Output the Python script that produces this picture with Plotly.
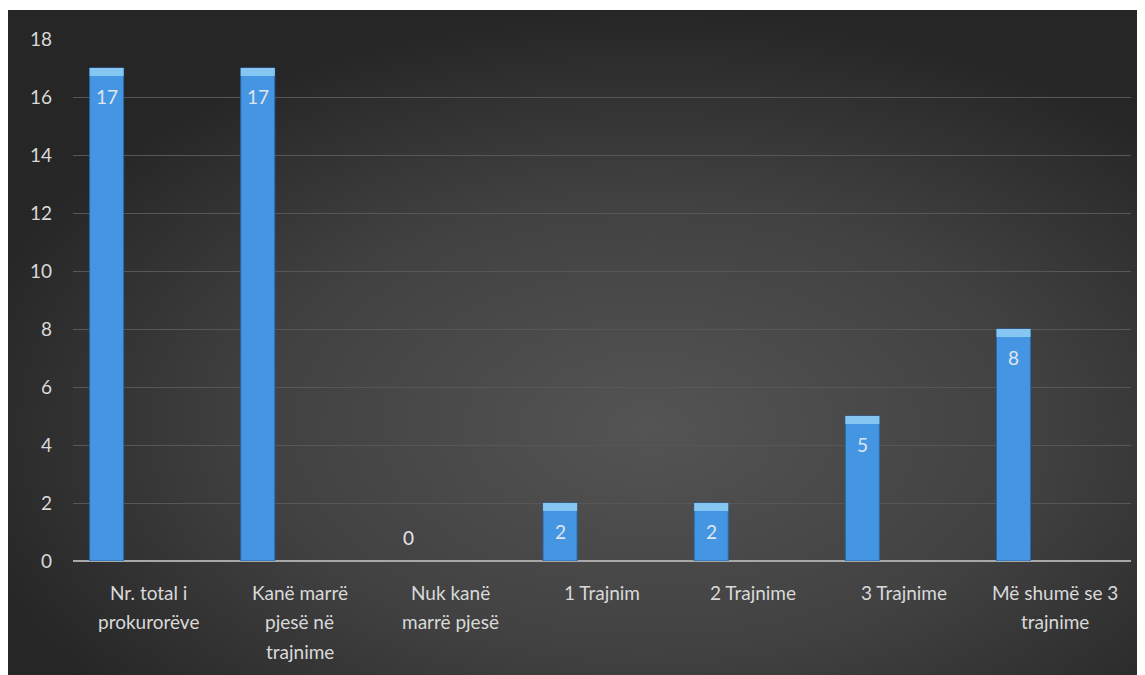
import base64
import plotly.graph_objects as go

categories = [
    "Nr. total i<br>prokurorëve",
    "Kanë marrë<br>pjesë në<br>trajnime",
    "Nuk kanë<br>marrë pjesë",
    "1 Trajnim",
    "2 Trajnime",
    "3 Trajnime",
    "Më shumë se 3<br>trajnime",
]
values = [17, 17, 0, 2, 2, 5, 8]
y_ticks = [0, 2, 4, 6, 8, 10, 12, 14, 16, 18]

FONT = "Lato, Carlito, Calibri, 'Open Sans', sans-serif"
TXT = "#d9d9d9"

svg = """<svg xmlns='http://www.w3.org/2000/svg' width='1145' height='673' viewBox='0 0 1145 673' preserveAspectRatio='none'>
<defs><radialGradient id='g' cx='0.56' cy='0.62' r='0.62' fx='0.56' fy='0.62'>
<stop offset='0' stop-color='#545454'/><stop offset='0.55' stop-color='#414141'/><stop offset='1' stop-color='#262626'/>
</radialGradient></defs>
<rect x='0' y='0' width='1145' height='673' fill='url(#g)'/></svg>"""
svg_uri = "data:image/svg+xml;base64," + base64.b64encode(svg.encode()).decode()

fig = go.Figure()

BAR_OFFSET = -0.39
BAR_WIDTH = 0.225

fig.add_trace(go.Bar(
    x=categories, y=values,
    offset=BAR_OFFSET, width=BAR_WIDTH,
    marker=dict(color="#4596e2",
                line=dict(color="#2a67a8", width=[1 if v > 0 else 0 for v in values])),
    hoverinfo="x+y",
))
# bevel highlight at top of each bar
bevel_h = 0.28
fig.add_trace(go.Bar(
    x=categories,
    y=[bevel_h if v > 0 else 0 for v in values],
    base=[v - bevel_h if v > 0 else 0 for v in values],
    offset=BAR_OFFSET, width=BAR_WIDTH,
    marker=dict(color="#86c6f3", line=dict(width=0)),
    hoverinfo="skip",
))

annotations = []
for c, v in zip(categories, values):
    annotations.append(dict(
        x=c, y=v, xref="x", yref="y", text=str(v), showarrow=False,
        xshift=-42, yshift=(-28 if v > 0 else 24), yanchor="middle",
        font=dict(family=FONT, size=19, color="#e0e6ee"),
    ))
    for i, line in enumerate(c.split("<br>")):
        annotations.append(dict(
            x=c, y=0, xref="x", yref="y", text=line, showarrow=False,
            yshift=-(31 + 29.5 * i), yanchor="middle",
            font=dict(family=FONT, size=19, color=TXT),
        ))

fig.update_layout(
    width=1145, height=675,
    margin=dict(l=65, r=22, t=31, b=122),
    paper_bgcolor="white",
    plot_bgcolor="rgba(0,0,0,0)",
    showlegend=False,
    barmode="overlay",
    font=dict(family=FONT, size=19, color=TXT),
    images=[dict(
        source=svg_uri, xref="paper", yref="paper",
        x=-65 / 1058, y=551 / 522, sizex=1145 / 1058, sizey=673 / 522,
        xanchor="left", yanchor="top", sizing="stretch", layer="below",
    )],
    annotations=annotations,
    xaxis=dict(showticklabels=False, showgrid=False, ticks="", zeroline=False,
               showline=False, fixedrange=True),
    yaxis=dict(range=[0, 18], tickvals=y_ticks, ticktext=[str(t) for t in y_ticks],
               showgrid=True, gridcolor="#575757", gridwidth=1,
               zeroline=True, zerolinecolor="#a8a8a8", zerolinewidth=2,
               ticks="", ticklabelstandoff=20, showline=False,
               tickfont=dict(family=FONT, size=19, color=TXT)),
)

fig.write_html("out.html")
